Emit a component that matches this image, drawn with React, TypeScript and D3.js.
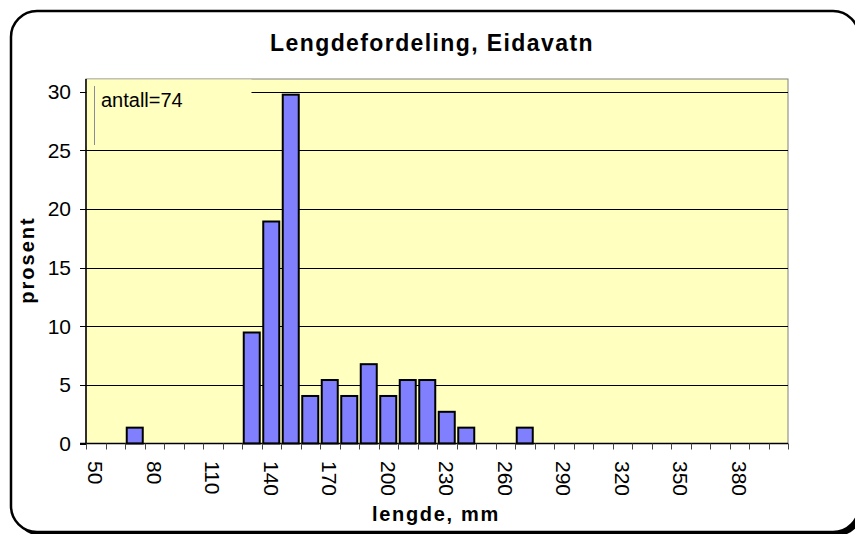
import React, { useEffect, useRef } from 'react';
import * as d3 from 'd3';

// length classes (mm), one bar each
const lengthClasses = [50, 60, 70, 80, 90, 100, 110, 120, 130, 140, 150, 160, 170, 180, 190, 200, 210, 220,
  230, 240, 250, 260, 270, 280, 290, 300, 310, 320, 330, 340, 350, 360, 370, 380, 390, 400];
// percent of fish in each class (n = 74)
const percent = [0, 0, 1.35, 0, 0, 0, 0, 0, 9.46, 18.92, 29.73, 4.05, 5.41, 4.05, 6.76, 4.05, 5.41, 5.41,
  2.7, 1.35, 0, 0, 1.35, 0, 0, 0, 0, 0, 0, 0, 0, 0, 0, 0, 0, 0];
const xTickLabels = [50, 80, 110, 140, 170, 200, 230, 260, 290, 320, 350, 380];
const yTicks = [0, 5, 10, 15, 20, 25, 30];

const title = 'Lengdefordeling, Eidavatn';
const xTitle = 'lengde, mm';
const yTitle = 'prosent';
const note = 'antall=74';

const W = 855;
const H = 534;
const font = '"Liberation Sans", Arial, sans-serif';

export default function App() {
  const ref = useRef<SVGSVGElement>(null);

  useEffect(() => {
    const svg = d3.select(ref.current);
    svg.selectAll('*').remove();

    const plot = { left: 86, right: 788, top: 79, bottom: 443.5 };

    // chart area: rounded frame with a shadow, runs off the right edge
    svg.append('rect')
      .attr('x', 15).attr('y', 15)
      .attr('width', 848).attr('height', 521)
      .attr('rx', 26)
      .attr('fill', '#000');
    svg.append('rect')
      .attr('x', 11).attr('y', 11)
      .attr('width', 848).attr('height', 521)
      .attr('rx', 26)
      .attr('fill', '#fff')
      .attr('stroke', '#000')
      .attr('stroke-width', 2.5);

    const x = d3.scaleBand<string>()
      .domain(lengthClasses.map(String))
      .range([plot.left, plot.right])
      .padding(0);

    const y = d3.scaleLinear()
      .domain([0, 30])
      .range([plot.bottom, 91.5]);

    // plot area
    svg.append('rect')
      .attr('x', plot.left).attr('y', plot.top)
      .attr('width', plot.right - plot.left)
      .attr('height', plot.bottom - plot.top)
      .attr('fill', '#FFFFC0')
      .attr('stroke', '#808080')
      .attr('stroke-width', 1);

    // gridlines
    svg.selectAll('line.grid')
      .data(yTicks.filter(d => d > 0))
      .enter()
      .append('line')
      .attr('x1', plot.left).attr('x2', plot.right)
      .attr('y1', d => Math.round(y(d)) + 0.5)
      .attr('y2', d => Math.round(y(d)) + 0.5)
      .attr('stroke', '#000')
      .attr('stroke-width', 1);

    // text box covering top-left of the plot
    svg.append('rect')
      .attr('x', plot.left + 0.5).attr('y', plot.top + 0.5)
      .attr('width', 165).attr('height', 67)
      .attr('fill', '#FFFFC0');
    svg.append('line')
      .attr('x1', 94.5).attr('x2', 94.5)
      .attr('y1', 86).attr('y2', 145)
      .attr('stroke', '#8a8a9a')
      .attr('stroke-width', 1);
    svg.append('text')
      .attr('x', 101).attr('y', 107)
      .style('font-family', font)
      .style('font-size', '20px')
      .text(note);

    // bars
    const bw = 16;
    svg.selectAll('rect.bar')
      .data(lengthClasses.map((c, i) => ({ c: String(c), v: percent[i] })).filter(d => d.v > 0))
      .enter()
      .append('rect')
      .attr('x', d => (x(d.c) as number) + (x.bandwidth() - bw) / 2)
      .attr('y', d => y(d.v))
      .attr('width', bw)
      .attr('height', d => y(0) - y(d.v))
      .attr('fill', '#8080FF')
      .attr('stroke', '#000')
      .attr('stroke-width', 2);

    // axes
    svg.append('line')
      .attr('x1', plot.left).attr('x2', plot.left)
      .attr('y1', plot.top).attr('y2', plot.bottom)
      .attr('stroke', '#000').attr('stroke-width', 1.5);
    svg.append('line')
      .attr('x1', plot.left - 6).attr('x2', plot.right)
      .attr('y1', plot.bottom).attr('y2', plot.bottom)
      .attr('stroke', '#000').attr('stroke-width', 1.5);

    svg.selectAll('line.ytick')
      .data(yTicks)
      .enter()
      .append('line')
      .attr('x1', plot.left - 6).attr('x2', plot.left)
      .attr('y1', d => Math.round(y(d)) + 0.5)
      .attr('y2', d => Math.round(y(d)) + 0.5)
      .attr('stroke', '#000');

    svg.selectAll('text.ylab')
      .data(yTicks)
      .enter()
      .append('text')
      .attr('x', 71)
      .attr('y', d => y(d))
      .attr('dy', '0.35em')
      .style('text-anchor', 'end')
      .style('font-family', font)
      .style('font-size', '21px')
      .text(d => d);

    const bounds = lengthClasses.map(c => x(String(c)) as number).concat([plot.right]);
    svg.selectAll('line.xtick')
      .data(bounds)
      .enter()
      .append('line')
      .attr('x1', d => Math.round(d) + 0.5).attr('x2', d => Math.round(d) + 0.5)
      .attr('y1', plot.bottom).attr('y2', plot.bottom + 6)
      .attr('stroke', '#444');

    svg.selectAll('text.xlab')
      .data(xTickLabels)
      .enter()
      .append('text')
      .attr('transform', d => `translate(${(x(String(d)) as number) + x.bandwidth() / 2},461) rotate(90)`)
      .attr('dy', '0.35em')
      .style('text-anchor', 'start')
      .style('font-family', font)
      .style('font-size', '21px')
      .text(d => d);

    // titles
    svg.append('text')
      .attr('x', 432).attr('y', 51)
      .style('text-anchor', 'middle')
      .style('font-family', font)
      .style('font-weight', 'bold')
      .style('font-size', '23px')
      .style('letter-spacing', '1.4px')
      .text(title);

    svg.append('text')
      .attr('transform', 'translate(33.5,260) rotate(-90)')
      .style('text-anchor', 'middle')
      .style('font-family', font)
      .style('font-weight', 'bold')
      .style('font-size', '20px')
      .style('letter-spacing', '2px')
      .text(yTitle);

    svg.append('text')
      .attr('x', 436).attr('y', 521)
      .style('text-anchor', 'middle')
      .style('font-family', font)
      .style('font-weight', 'bold')
      .style('font-size', '20px')
      .style('letter-spacing', '1.7px')
      .text(xTitle);
  }, []);

  return (
    <svg ref={ref} width={W} height={H}
      style={{ position: 'absolute', left: 0, top: 0, background: '#fff' }} />
  );
}
